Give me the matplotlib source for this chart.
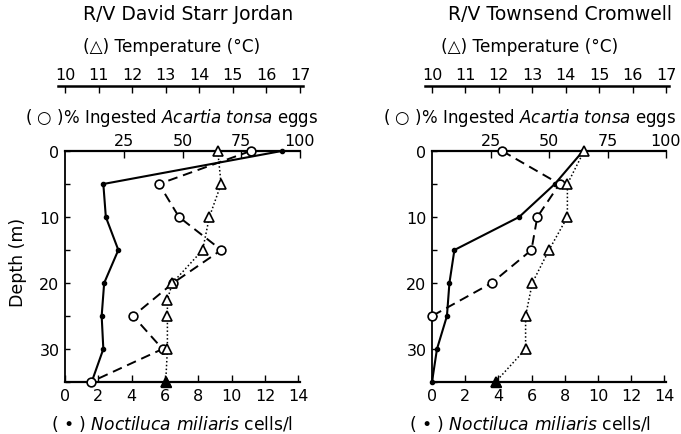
#-*- coding: utf-8 -*-
# Noctiluca, egg ingestion and temperature profiles, two ships
import matplotlib
matplotlib.use('Agg')
import matplotlib.pyplot as plt

plt.rcParams['font.family'] = ['DejaVu Sans']
plt.rcParams['mathtext.fontset'] = 'dejavusans'

# depth of samples (m)
depth = [0, 5, 10, 15, 20, 25, 30, 35]

# R/V David Starr Jordan
jordan_noct = [13.0, 2.3, 2.45, 3.2, 2.35, 2.2, 2.3, 1.6]
jordan_eggs = [79, 40, 48.5, 66.5, 46, 29, 41.5, 11]
jordan_temp_depth = [0, 5, 10, 15, 20, 22.5, 25, 30, 35]
jordan_temp = [14.55, 14.65, 14.3, 14.1, 13.2, 13.05, 13.05, 13.05, 13.0]

# R/V Townsend Cromwell
cromwell_noct = [9.1, 7.4, 5.25, 1.35, 1.05, 0.9, 0.3, 0.0]
cromwell_eggs_depth = [0, 5, 10, 15, 20, 25]
cromwell_eggs = [30, 54.5, 45, 42.5, 25.5, 0]
cromwell_temp = [14.55, 14.05, 14.05, 13.5, 13.0, 12.8, 12.8, 11.9]

W, H = 681.0, 435.0
top_px, bot_px = 152.0, 383.0


def fx(px):
    return px / W


def fy(py):
    return 1 - py / H


def panel(left_px, width_px, title, title_x, lab_x, noct, eggs_d, eggs, temp_d, temp, ylab):
    ax = plt.gcf().add_axes([fx(left_px), fy(bot_px), width_px / W, (bot_px - top_px) / H])
    # noctiluca on the main axis
    ax.plot(noct, depth, color='black', linewidth=1.5, marker='o', markersize=3, clip_on=False, zorder=5)
    ax.set_xlim(0, 14.1)
    ax.set_ylim(35, 0)
    ax.set_xticks([0, 2, 4, 6, 8, 10, 12, 14])
    ax.set_yticks([0, 5, 10, 15, 20, 25, 30, 35])
    ax.set_yticklabels(['0', '', '10', '', '20', '', '30', ''])
    ax.tick_params(axis='x', direction='in', length=5, width=1, labelsize=11.5, pad=4)
    ax.tick_params(axis='y', direction='in', length=3.5, width=1, labelsize=11.5, pad=4)
    ax.spines['top'].set_visible(False)
    ax.spines['right'].set_visible(False)
    ax.spines['left'].set_linewidth(1.3)
    ax.spines['bottom'].set_linewidth(1.6)
    ax.patch.set_visible(False)

    # % ingested eggs on top
    ax2 = ax.twiny()
    ax2.plot(eggs, eggs_d, color='black', linewidth=1.4, linestyle=(0, (5, 3)),
             marker='o', markersize=6.3, markerfacecolor='white', markeredgewidth=1.2, clip_on=False, zorder=4)
    ax2.set_xlim(0, 100)
    ax2.set_xticks([25, 50, 75, 100])
    ax2.tick_params(axis='x', direction='in', length=5, width=1, labelsize=11.5, pad=2)
    for s in ['left', 'right', 'bottom']:
        ax2.spines[s].set_visible(False)
    ax2.spines['top'].set_linewidth(1.6)

    # temperature axis further up
    ax3 = ax.twiny()
    ax3.plot(temp, temp_d, color='black', linewidth=1.1, linestyle=(0, (1, 1.5)),
             marker='^', markersize=6.5, markerfacecolor='white', markeredgewidth=1.2, clip_on=False, zorder=3)
    ax3.plot(temp[-1:], temp_d[-1:], color='black', marker='^', markersize=6.5, linestyle='none',
             clip_on=False, zorder=6)
    ax3.set_xlim(10, 17)
    ax3.set_xticks([10, 11, 12, 13, 14, 15, 16, 17])
    ax3.spines['top'].set_position(('axes', 1 + (top_px - 87) / (bot_px - top_px)))
    ax3.spines['top'].set_linewidth(1.8)
    ax3.spines['top'].set_bounds(9.8, 17.1)
    ax3.tick_params(axis='x', direction='in', length=5, width=1, labelsize=11.5, pad=3)
    for s in ['left', 'right', 'bottom']:
        ax3.spines[s].set_visible(False)

    fig = plt.gcf()
    fig.text(fx(title_x), fy(15), title, ha='center', va='center', fontsize=13.5)
    fig.text(fx(lab_x), fy(47), u'(\u25b3) Temperature (\u00b0C)', ha='center', va='center', fontsize=12.2)
    fig.text(fx(lab_x), fy(118), u'( \u25cb )% Ingested $\\it{Acartia\\ tonsa}$ eggs',
             ha='center', va='center', fontsize=12)
    fig.text(fx(lab_x), fy(424), u'( \u2022 ) $\\it{Noctiluca\\ miliaris}$ cells/l',
             ha='center', va='center', fontsize=12.3)
    if ylab:
        fig.text(fx(18), fy(262), 'Depth (m)', rotation=90, ha='center', va='center', fontsize=12.5)
    return ax


fig = plt.figure(figsize=(6.81, 4.35), dpi=100)
panel(65, 235, 'R/V David Starr Jordan', 188, 172, jordan_noct, depth, jordan_eggs,
      jordan_temp_depth, jordan_temp, True)
panel(432, 234, 'R/V Townsend Cromwell', 560, 530, cromwell_noct, cromwell_eggs_depth, cromwell_eggs,
      depth, cromwell_temp, False)

plt.savefig('out.png', dpi=100)
